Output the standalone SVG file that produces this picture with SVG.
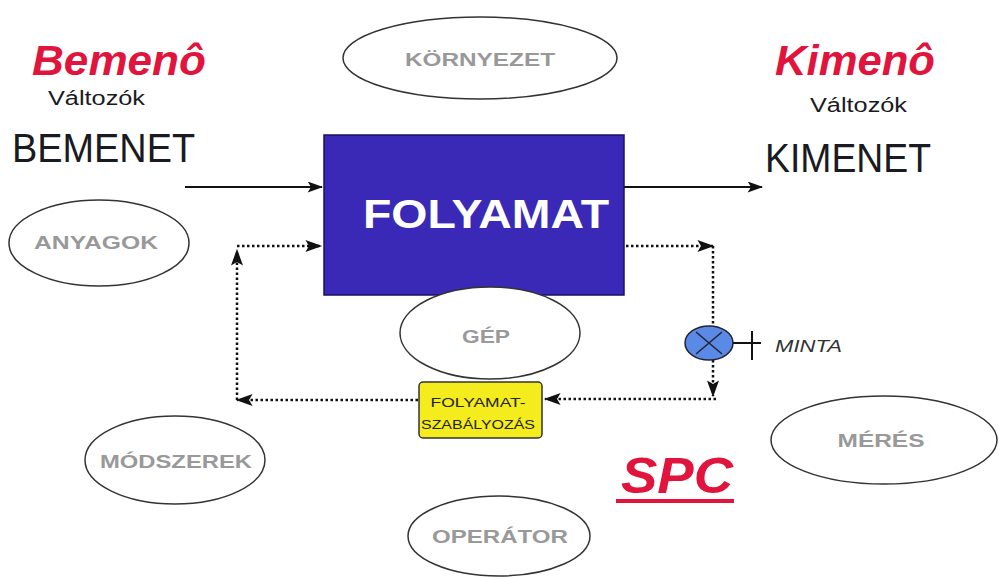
<svg xmlns="http://www.w3.org/2000/svg" width="999" height="579" viewBox="0 0 999 579">
<style>
.oval{fill:#fff;stroke:#333;stroke-width:1.5}
.olab{font-family:"Liberation Sans",Arial,sans-serif;font-weight:bold;fill:#999;font-size:19px;text-anchor:middle}
.red{font-family:"Liberation Sans",Arial,sans-serif;font-weight:bold;font-style:italic;fill:#e0143c}
.dark{font-family:"Liberation Sans",Arial,sans-serif;fill:#1a1a22}
.dot{fill:none;stroke:#111;stroke-width:2.5;stroke-dasharray:2.5 2.5}
.solid{fill:none;stroke:#111;stroke-width:2}
</style>
<defs>
<marker id="ah" viewBox="0 0 14 10" refX="13" refY="5" markerWidth="18" markerHeight="12" markerUnits="userSpaceOnUse" orient="auto">
<path d="M0,0 L14,5 L0,10 L3,5 z" fill="#111"/>
</marker>
<marker id="ahs" viewBox="0 0 14 10" refX="13" refY="5" markerWidth="16" markerHeight="11" markerUnits="userSpaceOnUse" orient="auto">
<path d="M0,0 L14,5 L0,10 L3,5 z" fill="#111"/>
</marker>
</defs>
<rect width="999" height="579" fill="#fff"/>

<g id="labels">
<text class="red" x="32" y="75" font-size="43" textLength="174" lengthAdjust="spacingAndGlyphs">Bemenô</text>
<text class="dark" x="48" y="105" font-size="20" textLength="97" lengthAdjust="spacingAndGlyphs">Változók</text>
<text class="dark" x="12" y="162" font-size="40" textLength="183" lengthAdjust="spacingAndGlyphs">BEMENET</text>
<text class="red" x="775" y="75" font-size="43" textLength="160" lengthAdjust="spacingAndGlyphs">Kimenô</text>
<text class="dark" x="810" y="112" font-size="20" textLength="97" lengthAdjust="spacingAndGlyphs">Változók</text>
<text class="dark" x="765" y="172" font-size="40" textLength="166" lengthAdjust="spacingAndGlyphs">KIMENET</text>
<text class="red" x="621" y="493" font-size="50" textLength="112" lengthAdjust="spacingAndGlyphs">SPC</text>
<rect x="616" y="499" width="118" height="4" fill="#e0143c"/>
</g>

<g id="connectors">
<path class="solid" d="M185,187 H322" marker-end="url(#ahs)"/>
<path class="solid" d="M624,187 H762" marker-end="url(#ahs)"/>
<path class="dot" d="M626,246 H713" marker-end="url(#ah)"/>
<path class="dot" d="M713,246 V327"/>
<path class="dot" d="M713,360 V396" marker-end="url(#ah)"/>
<path class="dot" d="M716,399 H545" marker-end="url(#ah)"/>
<path class="dot" d="M418,400 H237" marker-end="url(#ah)"/>
<path class="dot" d="M237,400 V250" marker-end="url(#ah)"/>
<path class="dot" d="M237,246 H321" marker-end="url(#ah)"/>
</g>

<g id="folyamat">
<rect x="324" y="135" width="300" height="160" fill="#3a28b6" stroke="#1a1060" stroke-width="1.5"/>
<text x="486" y="228" font-family="Liberation Sans, Arial, sans-serif" font-weight="bold" font-size="40" fill="#fff" text-anchor="middle" textLength="246" lengthAdjust="spacingAndGlyphs">FOLYAMAT</text>
</g>

<g id="kornyezet">
<ellipse class="oval" cx="480" cy="58" rx="137" ry="41"/>
<text class="olab" x="480" y="66" textLength="150" lengthAdjust="spacingAndGlyphs">KÖRNYEZET</text>
</g>
<g id="anyagok">
<ellipse class="oval" cx="99" cy="243" rx="90" ry="43"/>
<text class="olab" x="96" y="249" textLength="124" lengthAdjust="spacingAndGlyphs">ANYAGOK</text>
</g>
<g id="gep">
<ellipse class="oval" cx="490" cy="333" rx="90" ry="46"/>
<text class="olab" x="486" y="343" textLength="48" lengthAdjust="spacingAndGlyphs">GÉP</text>
</g>
<g id="modszerek">
<ellipse class="oval" cx="175" cy="460" rx="90" ry="44"/>
<text class="olab" x="176" y="468" textLength="152" lengthAdjust="spacingAndGlyphs">MÓDSZEREK</text>
</g>
<g id="operator">
<ellipse class="oval" cx="499" cy="536" rx="91" ry="40"/>
<text class="olab" x="500" y="543" textLength="136" lengthAdjust="spacingAndGlyphs">OPERÁTOR</text>
</g>
<g id="meres">
<ellipse class="oval" cx="884" cy="440" rx="113" ry="44"/>
<text class="olab" x="881" y="447" textLength="87" lengthAdjust="spacingAndGlyphs">MÉRÉS</text>
</g>

<g id="szabalyozas">
<rect x="419" y="382" width="123" height="56" rx="4" fill="#f5ec1e" stroke="#333" stroke-width="1.5"/>
<text x="478" y="407" font-family="Liberation Sans, Arial, sans-serif" font-size="13" fill="#222" text-anchor="middle" textLength="95" lengthAdjust="spacingAndGlyphs">FOLYAMAT-</text>
<text x="478" y="429" font-family="Liberation Sans, Arial, sans-serif" font-size="13" fill="#222" text-anchor="middle" textLength="114" lengthAdjust="spacingAndGlyphs">SZABÁLYOZÁS</text>
</g>

<g id="minta">
<ellipse cx="709" cy="343" rx="24" ry="17" fill="#5b8ae6" stroke="#223" stroke-width="1.5"/>
<path d="M696,332 L722,354 M696,354 L722,332" stroke="#223" stroke-width="1.5"/>
<path d="M733,343 H761 M752,331 V360" stroke="#111" stroke-width="2" fill="none"/>
<text x="775" y="352" font-family="Liberation Sans, Arial, sans-serif" font-style="italic" font-size="16" fill="#333" textLength="67" lengthAdjust="spacingAndGlyphs">MINTA</text>
</g>
</svg>
